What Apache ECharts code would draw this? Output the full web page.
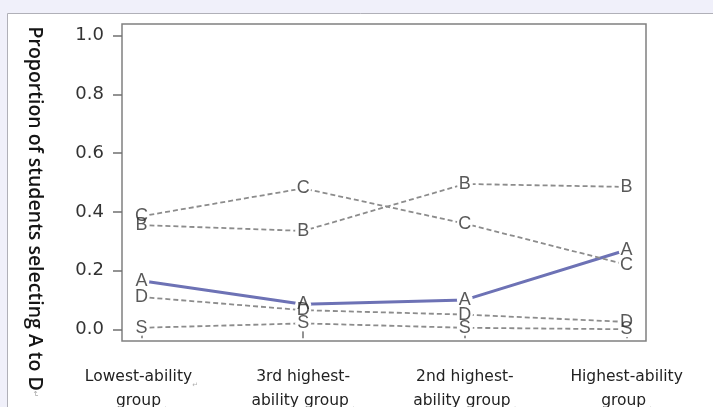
<!DOCTYPE html>
<html><head><meta charset="utf-8">
<script src="https://cdn.jsdelivr.net/npm/echarts@6/dist/echarts.min.js"></script>
<style>html,body{margin:0;padding:0;background:#f0f0fa;}#c{width:713px;height:407px;}</style>
</head><body><div id="c"></div>
<script>
// category labels (line1, line2, paragraph marks shown after)
const categories = ['Lowest-ability\u21b5\ngroup\u21b5', '3rd highest-\nability group\u21b5', '2nd highest-\nability group\u21b5', 'Highest-ability\ngroup\u21b5'];
const yTicks = [0, 0.2, 0.4, 0.6, 0.8, 1.0];
const letters = ['A', 'B', 'C', 'D', 'S'];
const seriesA = [0.165, 0.085, 0.10, 0.27];
const seriesB = [0.355, 0.335, 0.495, 0.485];
const seriesC = [0.385, 0.48, 0.36, 0.22];
const seriesD = [0.11, 0.065, 0.05, 0.025];
const seriesS = [0.005, 0.02, 0.005, 0.0];
const yTitle = 'Proportion of students selecting A to D';

const allSeries = [seriesA, seriesB, seriesC, seriesD, seriesS];
const toPts = arr => arr.map((v, i) => [i + 1, v]);

function fmtCat(v) {
  const s = categories[Math.round(v) - 1] || '';
  return s.split('\n').map(line => {
    if (line.endsWith('\u21b5')) return '{a|' + line.slice(0, -1) + '}{m|\u21b5}';
    return '{a|' + line + '}';
  }).join('\n');
}

const lineSeries = allSeries.map((arr, k) => ({
  type: 'line',
  data: toPts(arr),
  symbol: 'circle',
  symbolSize: 16,
  showSymbol: true,
  itemStyle: { color: '#ffffff', borderWidth: 0 },
  lineStyle: k === 0
    ? { color: '#6d72b5', width: 3, type: 'solid' }
    : { color: '#8c8c8c', width: 1.8, type: [5, 3] },
  z: 2,
  silent: true,
  animation: false
}));
const labelSeries = allSeries.map((arr, k) => ({
  type: 'scatter',
  data: toPts(arr),
  symbolSize: 1,
  itemStyle: { color: 'rgba(0,0,0,0)' },
  label: {
    show: true, position: 'inside', formatter: letters[k],
    fontFamily: 'Liberation Sans', fontSize: 18, color: '#303030'
  },
  z: 10,
  silent: true,
  animation: false
}));

const chart = echarts.init(document.getElementById('c'), null, { renderer: 'canvas' });
chart.setOption({
  animation: false,
  graphic: [
    { type: 'rect', z: -10, shape: { x: 7.5, y: 13.5, width: 760, height: 440 },
      style: { fill: '#ffffff', stroke: '#b0b0b8', lineWidth: 1 } },
    { type: 'text', z: 5, x: 35, y: 212, rotation: -Math.PI / 2,
      style: { text: '{t|' + yTitle + '}{m|\u21b5}', align: 'center', verticalAlign: 'middle',
        rich: {
          t: { fontFamily: 'Open Sans', fontWeight: 600, fontSize: 19.5, fill: '#151515' },
          m: { fontFamily: 'DejaVu Sans', fontSize: 8, fill: '#aaaaaa' }
        } } }
  ],
  grid: { left: 122, right: 67, top: 24, bottom: 66, show: true, containLabel: false,
    outerBoundsMode: 'none',
    borderColor: '#808080', borderWidth: 1.5, backgroundColor: '#ffffff' },
  xAxis: {
    type: 'value', min: 0.88, max: 4.12,
    axisLine: { show: false },
    splitLine: { show: false },
    axisTick: { show: true, length: 9, customValues: [1, 2, 3, 4], lineStyle: { color: '#707070', width: 1.5 } },
    axisLabel: {
      customValues: [1, 2, 3, 4], margin: 24, formatter: fmtCat,
      rich: {
        a: { fontFamily: 'DejaVu Sans', fontSize: 15.5, color: '#222222', lineHeight: 24 },
        m: { fontFamily: 'DejaVu Sans', fontSize: 7, color: '#b0b0b0', lineHeight: 24, verticalAlign: 'bottom' }
      }
    }
  },
  yAxis: {
    type: 'value', min: -0.04, max: 1.04,
    axisLine: { show: false },
    splitLine: { show: false },
    axisTick: { show: true, length: 9, customValues: yTicks, lineStyle: { color: '#707070', width: 1.5 } },
    axisLabel: {
      customValues: yTicks, margin: 18, formatter: v => v.toFixed(1),
      fontFamily: 'DejaVu Sans', fontSize: 18, color: '#333333'
    }
  },
  series: lineSeries.concat(labelSeries)
});
</script></body></html>
